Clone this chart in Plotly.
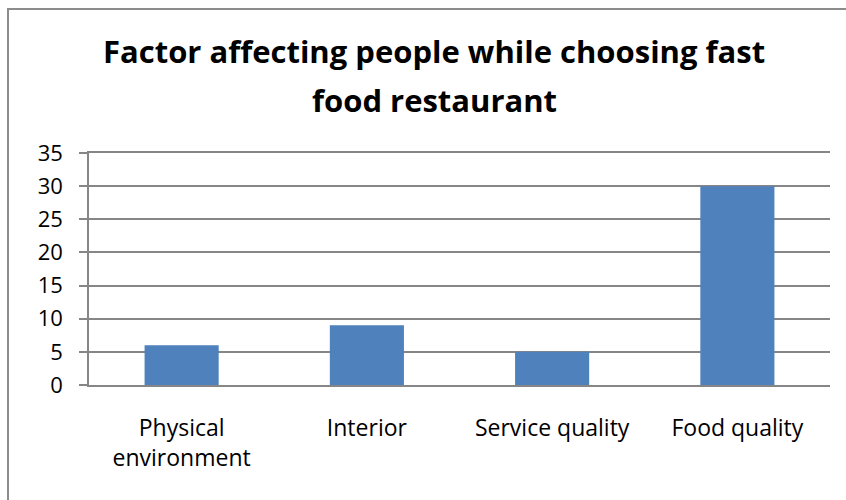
import plotly.graph_objects as go

# Survey results: number of respondents citing each factor
categories = ["Physical<br>environment", "Interior", "Service quality", "Food quality"]
responses = [6, 9, 5, 30]
y_ticks = [0, 5, 10, 15, 20, 25, 30, 35]

title_lines = ["Factor affecting people while choosing fast", "food restaurant"]

BAR_COLOR = "#4F81BD"
GRID_COLOR = "#868686"
FONT = "Open Sans"

fig = go.Figure(
    go.Bar(
        x=categories,
        y=responses,
        marker=dict(color=BAR_COLOR, line=dict(width=0)),
        width=0.4,
    )
)

fig.update_layout(
    width=846,
    height=500,
    margin=dict(l=89, r=16, t=153, b=115),
    paper_bgcolor="white",
    plot_bgcolor="white",
    showlegend=False,
    font=dict(family=FONT, size=22, color="black"),
)

fig.update_xaxes(
    showgrid=False,
    showline=True,
    mirror=True,
    linecolor=GRID_COLOR,
    linewidth=1.5,
    ticks="",
    ticklabelstandoff=22,
    tickfont=dict(family=FONT, size=23, color="black"),
)

fig.update_yaxes(
    range=[0, 35],
    tickvals=y_ticks,
    showgrid=True,
    gridcolor=GRID_COLOR,
    gridwidth=1.5,
    showline=True,
    linecolor=GRID_COLOR,
    linewidth=1.5,
    ticks="outside",
    ticklen=8,
    tickcolor=GRID_COLOR,
    tickwidth=1.5,
    ticklabelstandoff=12,
    zeroline=False,
    tickfont=dict(family=FONT, size=22, color="black"),
)

# Title, two centred bold lines
for text, ypix in zip(title_lines, [61, 110]):
    fig.add_annotation(
        text=f"<b>{text}</b>",
        xref="paper", yref="paper",
        x=(434 - 89) / 741, y=(385 - ypix) / 232,
        xanchor="center", yanchor="bottom",
        showarrow=False,
        font=dict(family=FONT, size=31, color="black"),
        yshift=-13,
    )

# Chart-area frame (left and top edges visible)
fig.add_shape(
    type="rect",
    xref="paper", yref="paper",
    x0=(8 - 89) / 741, x1=(900 - 89) / 741,
    y0=(385 - 560) / 232, y1=(385 - 9) / 232,
    line=dict(color="#8c8c8c", width=2),
    fillcolor="rgba(0,0,0,0)",
    layer="below",
)

fig.write_html("out.html")
